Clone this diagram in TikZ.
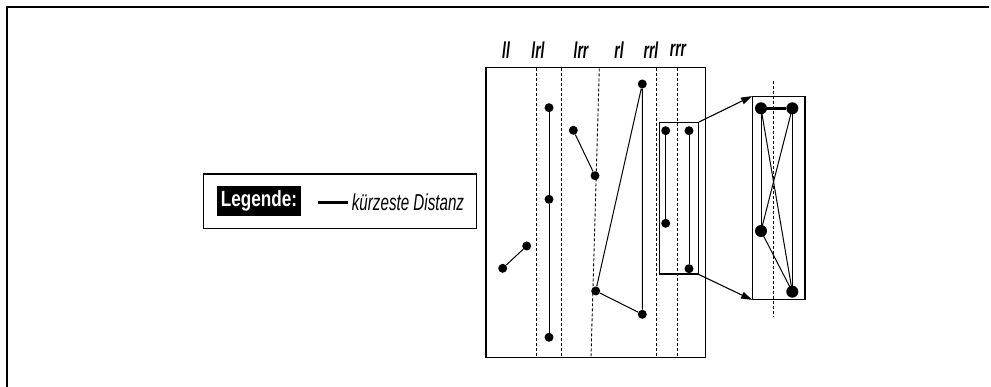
\documentclass[tikz,border=0pt]{standalone}
\usepackage{fontspec}
\setmainfont{Liberation Sans}
\usetikzlibrary{arrows.meta}
\begin{document}
\begin{tikzpicture}[x=1pt,y=-1pt,
  dot/.style={circle,fill=black,inner sep=0pt,minimum size=9pt},
  bigdot/.style={circle,fill=black,inner sep=0pt,minimum size=12pt},
  seg/.style={line width=1pt},
  sep/.style={line width=0.9pt,dash pattern=on 3pt off 2pt},
  frame/.style={draw,line width=1.4pt},
  lab/.style={font=\fontsize{23}{23}\selectfont\bfseries\itshape,inner sep=0pt},
  conn/.style={line width=1.1pt,-{Triangle[length=11pt,width=7pt]}}]
\useasboundingbox (0,0) rectangle (991,387);
% outer frame
\draw[line width=2pt] (6.5,387) -- (6.5,7.5) -- (989,7.5);
% legend
\node[draw,line width=1.2pt,minimum width=273.4pt,minimum height=54.3pt,inner sep=0pt] (legend) at (340,201.2) {};
\node[fill=black,text=white,minimum width=84.3pt,minimum height=30pt,inner sep=0pt,font=\fontsize{22}{22}\selectfont\bfseries] (leghead) at (258.9,201) {\scalebox{0.78}[1]{Legende:}};
\coordinate (la) at (318.3,202.7);
\coordinate (lb) at (347.7,202.7);
\draw[line width=3pt] (la) -- (lb);
\node[anchor=west,inner sep=0pt,font=\fontsize{23}{23}\selectfont\itshape] (legtext) at (351.7,202.5) {\scalebox{0.66}[1]{kürzeste Distanz}};
% main box
\node[frame,minimum width=219.3pt,minimum height=290pt,inner sep=0pt] (main) at (595.7,212.7) {};
% column labels
\node[lab] (ll) at (506,50) {\scalebox{0.6}[1]{ll}};
\node[lab] (lrl) at (538,50) {\scalebox{0.6}[1]{lrl}};
\node[lab] (lrr) at (581,50) {\scalebox{0.6}[1]{lrr}};
\node[lab] (rl) at (619,50) {\scalebox{0.6}[1]{rl}};
\node[lab] (rrl) at (651,50) {\scalebox{0.6}[1]{rrl}};
\node[lab] (rrr) at (678,50) {\scalebox{0.6}[1]{rrr}};
% dashed separators
\coordinate (s1a) at (536,68.5); \coordinate (s1b) at (536,357);
\coordinate (s2a) at (561.7,68.5); \coordinate (s2b) at (561.7,357);
\coordinate (s3a) at (599.3,68.5); \coordinate (s3b) at (591,357);
\coordinate (s4a) at (656.3,68.5); \coordinate (s4b) at (656.3,357);
\coordinate (s5a) at (677.7,68.5); \coordinate (s5b) at (677.7,357);
\foreach \s in {1,...,5} \draw[sep] (s\s a) -- (s\s b);
% small box
\node[draw,line width=1.2pt,minimum width=39pt,minimum height=151.3pt,inner sep=0pt] (small) at (678.8,198.3) {};
% zoom box
\node[draw,line width=1.2pt,minimum width=52.3pt,minimum height=202.6pt,inner sep=0pt] (zoom) at (778.8,198) {};
\coordinate (za) at (773,81); \coordinate (zb) at (773,317);
\draw[sep] (za) -- (zb);
% dots
\node[dot] (a1) at (502.7,268.3) {};
\node[dot] (a2) at (526.7,246) {};
\node[dot] (b1) at (549,107.7) {};
\node[dot] (b2) at (549,199.3) {};
\node[dot] (b3) at (549,337.3) {};
\node[dot] (c1) at (573.3,130.3) {};
\node[dot] (c2) at (595,175.7) {};
\node[dot] (d1) at (595.7,291) {};
\node[dot] (e1) at (642.3,84) {};
\node[dot] (e2) at (642.3,314.3) {};
\node[dot] (f1) at (665.7,130.7) {};
\node[dot] (f2) at (665.7,223.3) {};
\node[dot] (g1) at (689,130.7) {};
\node[dot] (g2) at (689,268.7) {};
\node[bigdot] (z1) at (761,108.3) {};
\node[bigdot] (z2) at (792.3,108.3) {};
\node[bigdot] (z3) at (761,231) {};
\node[bigdot] (z4) at (792.3,291.7) {};
% segments
\draw[seg] (a1) -- (a2);
\draw[seg] (b1) -- (b2) -- (b3);
\draw[seg] (c1) -- (c2);
\draw[seg] (d1) -- (e1) -- (e2) -- (d1);
\draw[seg] (f1) -- (f2);
\draw[seg] (g1) -- (g2);
\draw[line width=3.5pt] (z1) -- (z2);
\draw[seg] (z1.center) -- (z3.center);
\draw[seg] (z2.center) -- (z4.center);
\draw[seg] (z1.center) -- (z4.center);
\draw[seg] (z2.center) -- (z3.center);
\draw[seg] (z3.center) -- (z4.center);
% connectors
\draw[conn] (small.north east) -- (zoom.north west);
\draw[conn] (small.south east) -- (zoom.south west);
\end{tikzpicture}
\end{document}
